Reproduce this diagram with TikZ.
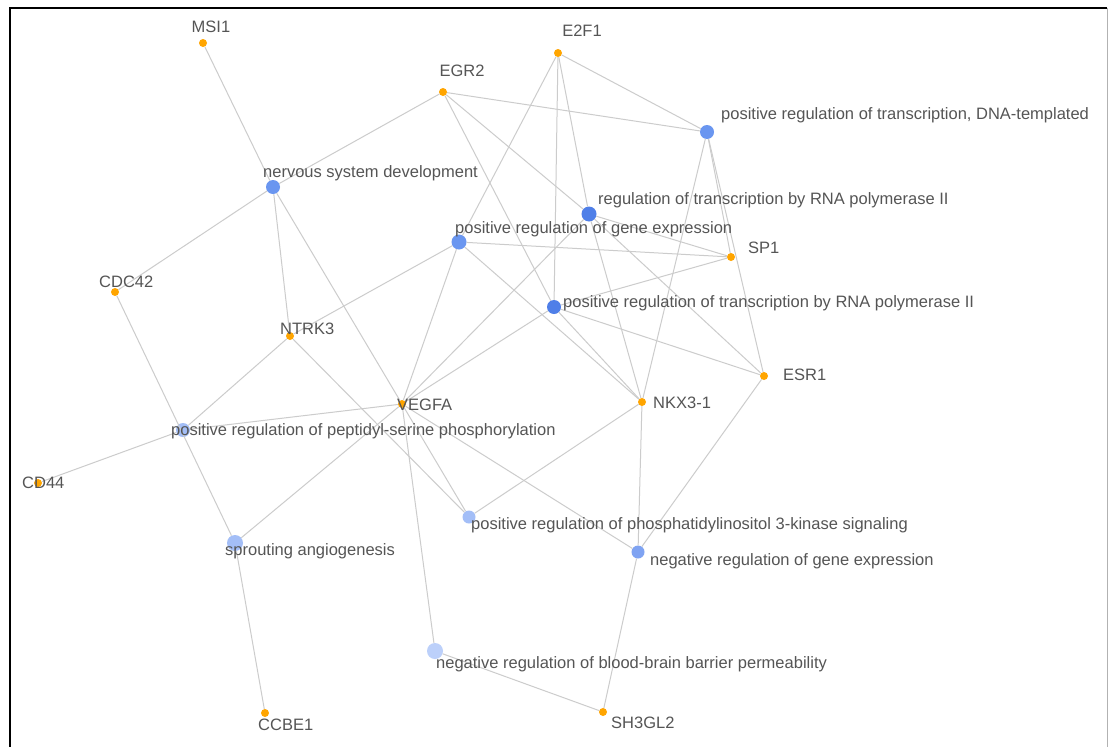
\documentclass[tikz,border=0pt]{standalone}
\usepackage{fontspec}
\setmainfont{Liberation Sans}
\definecolor{gene}{HTML}{FFA500}
\definecolor{tA}{HTML}{4F7FE8}
\definecolor{tB}{HTML}{6A96F0}
\definecolor{tC}{HTML}{7FA3F2}
\definecolor{tD}{HTML}{A3BEF7}
\definecolor{tE}{HTML}{BCD0FA}
\definecolor{edgec}{HTML}{CCCCCC}
\definecolor{txt}{HTML}{555555}
\tikzset{
  genenode/.style={circle,fill=gene,draw=none,minimum size=8pt,inner sep=0pt},
  termnode/.style={circle,draw=none,inner sep=0pt},
  lbl/.style={anchor=base west,inner sep=0pt,text=txt,font=\fontsize{16.5}{19}\selectfont},
  clbl/.style={anchor=base,inner sep=0pt,text=txt,font=\fontsize{16.5}{19}\selectfont},
  edge/.style={draw=edgec,line width=1pt}
}
\begin{document}
\begin{tikzpicture}[x=1pt,y=-1pt]
\useasboundingbox (0,0) rectangle (1109,747);
\fill[white] (0,0) rectangle (1109,747);
% frame
\draw[black,line width=2pt] (9.5,747) -- (9.5,8) -- (1107,8);
\draw[black!30,line width=1.2pt] (1107.5,8) -- (1107.5,747);
% gene nodes
\node[genenode] (MSI1) at (203,43) {};
\node[genenode] (E2F1) at (558,53) {};
\node[genenode] (EGR2) at (443,92) {};
\node[genenode] (SP1) at (731,257) {};
\node[genenode] (CDC42) at (115,292) {};
\node[genenode] (NTRK3) at (290,336) {};
\node[genenode] (ESR1) at (764,376) {};
\node[genenode] (VEGFA) at (402,404) {};
\node[genenode] (NKX31) at (642,402) {};
\node[genenode] (CD44) at (38,483) {};
\node[genenode] (CCBE1) at (265,713) {};
\node[genenode] (SH3GL2) at (603,712) {};
% term nodes
\node[termnode,fill=tB,minimum size=14pt] (PRTDNA) at (707,132) {};
\node[termnode,fill=tB,minimum size=14pt] (NSD) at (273,187) {};
\node[termnode,fill=tA,minimum size=15pt] (RTRNA) at (589,214) {};
\node[termnode,fill=tB,minimum size=15pt] (PRGE) at (459,242) {};
\node[termnode,fill=tA,minimum size=14pt] (PRTRNA) at (554,307) {};
\node[termnode,fill=tD,minimum size=14pt] (PRPSP) at (183,430) {};
\node[termnode,fill=tD,minimum size=13pt] (PRPI) at (469,517) {};
\node[termnode,fill=tD,minimum size=16pt] (SA) at (235,543) {};
\node[termnode,fill=tC,minimum size=13pt] (NRGE) at (638,552) {};
\node[termnode,fill=tE,minimum size=16pt] (NRBBB) at (435,651) {};
% edges
\foreach \a/\b in {MSI1/NSD, EGR2/NSD, CDC42/NSD, NTRK3/NSD, VEGFA/NSD,
  EGR2/PRTDNA, E2F1/PRTDNA, SP1/PRTDNA, ESR1/PRTDNA, NKX31/PRTDNA,
  EGR2/RTRNA, E2F1/RTRNA, SP1/RTRNA, ESR1/RTRNA, NKX31/RTRNA, VEGFA/RTRNA,
  E2F1/PRGE, NTRK3/PRGE, VEGFA/PRGE, SP1/PRGE, NKX31/PRGE,
  E2F1/PRTRNA, EGR2/PRTRNA, SP1/PRTRNA, ESR1/PRTRNA, VEGFA/PRTRNA, NKX31/PRTRNA,
  CD44/PRPSP, NTRK3/PRPSP, VEGFA/PRPSP,
  NTRK3/PRPI, VEGFA/PRPI, NKX31/PRPI,
  CDC42/SA, VEGFA/SA, CCBE1/SA,
  VEGFA/NRGE, NKX31/NRGE, ESR1/NRGE, SH3GL2/NRGE,
  VEGFA/NRBBB, SH3GL2/NRBBB}
  \path[edge] (\a) -- (\b);
% labels
\node[clbl] (lMSI1) at (211,32) {MSI1};
\node[clbl] (lE2F1) at (582,36) {E2F1};
\node[clbl] (lEGR2) at (462,76) {EGR2};
\node[lbl] (lPRTDNA) at (721,119) {positive regulation of transcription, DNA-templated};
\node[lbl] (lNSD) at (263,177) {nervous system development};
\node[lbl] (lRTRNA) at (598,204) {regulation of transcription by RNA polymerase II};
\node[lbl] (lPRGE) at (455,233) {positive regulation of gene expression};
\node[lbl] (lSP1) at (748,253) {SP1};
\node[lbl] (lPRTRNA) at (563,307) {positive regulation of transcription by RNA polymerase II};
\node[lbl] (lCDC42) at (99,287) {CDC42};
\node[lbl] (lNTRK3) at (280,334) {NTRK3};
\node[lbl] (lESR1) at (783,380) {ESR1};
\node[lbl] (lVEGFA) at (397,410) {VEGFA};
\node[lbl] (lNKX31) at (653,408) {NKX3-1};
\node[lbl] (lPRPSP) at (171,435) {positive regulation of peptidyl-serine phosphorylation};
\node[lbl] (lCD44) at (22,488) {CD44};
\node[lbl] (lPRPI) at (471,529) {positive regulation of phosphatidylinositol 3-kinase signaling};
\node[lbl] (lSA) at (225,555) {sprouting angiogenesis};
\node[lbl] (lNRGE) at (650,565) {negative regulation of gene expression};
\node[lbl] (lNRBBB) at (436,668) {negative regulation of blood-brain barrier permeability};
\node[lbl] (lCCBE1) at (258,730) {CCBE1};
\node[lbl] (lSH3GL2) at (611,728) {SH3GL2};
\end{tikzpicture}
\end{document}
